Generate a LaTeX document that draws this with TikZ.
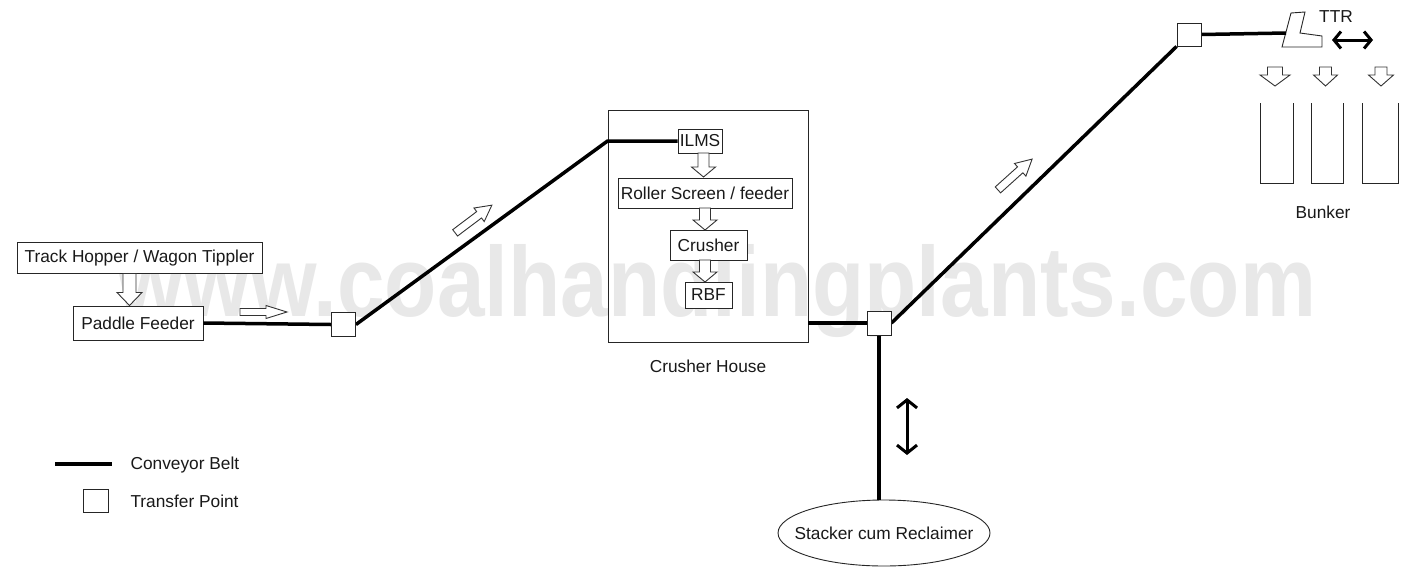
\documentclass[tikz,border=0pt]{standalone}
\usepackage{fontspec}
\setmainfont{Liberation Sans}
\usetikzlibrary{shapes.geometric,arrows.meta,calc}
% #1 centre, #2 angle, #3 length, #4 head length, #5 shaft width, #6 head width
\newcommand\hollowarrow[6]{%
  \begin{scope}[shift={#1}, rotate=#2]
    \draw[harrowline] (-#3/2,-#5/2) -- (#3/2-#4,-#5/2) -- (#3/2-#4,-#6/2) -- (#3/2,0)
      -- (#3/2-#4,#6/2) -- (#3/2-#4,#5/2) -- (-#3/2,#5/2) -- cycle;
  \end{scope}}
\begin{document}
\begin{tikzpicture}[x=1pt,y=-1pt,
  lbl/.style={font=\fontsize{17.3}{20}\selectfont, text=black!90},
  box/.style={draw=black!85, line width=0.9pt, inner sep=0pt, fill=white, lbl},
  tp/.style={draw=black!85, line width=0.9pt, inner sep=0pt, fill=white, minimum width=24pt, minimum height=24pt},
  conv/.style={line width=3.5pt, black},
  thin/.style={line width=0.9pt, black!85},
  harrowline/.style={draw=black!80, fill=white, line width=0.9pt, line join=miter},
  dbl/.style={line width=3pt, black, {Straight Barb[length=8pt,width=20pt]}-{Straight Barb[length=8pt,width=20pt]}}
]
\useasboundingbox (0,0) rectangle (1420,568);
\fill[white] (0,0) rectangle (1420,568);

% watermark
\node[anchor=base west, inner sep=0pt, text=black!9] (wm) at (117,316)
  {\resizebox{1198pt}{72pt}{\bfseries www.coalhandlingplants.com}};

% crusher house
\node[draw=black!85, line width=0.9pt, minimum width=200pt, minimum height=232pt, inner sep=0pt] (CH) at (708,226) {};
\node[lbl] (CHl) at (708,366) {Crusher House};

% boxes
\node[box, minimum width=245pt, minimum height=31pt] (TH) at (139.5,258) {Track Hopper / Wagon Tippler};
\node[box, minimum width=130pt, minimum height=34pt] (PF) at (138,323) {Paddle Feeder};
\node[box, minimum width=44pt, minimum height=24pt] (ILMS) at (700,141) {ILMS};
\node[box, minimum width=174pt, minimum height=30pt] (RS) at (705,193) {Roller Screen / feeder};
\node[box, minimum width=77pt, minimum height=30pt] (CR) at (708.5,245) {Crusher};
\node[box, minimum width=47pt, minimum height=26pt] (RBF) at (708.5,295) {RBF};

% transfer points
\node[tp] (TP1) at (343.5,324.5) {};
\node[tp] (TP2) at (879,323) {};
\node[tp, minimum height=23pt] (TP3) at (1189,34.5) {};

% stacker reclaimer
\node[ellipse, draw=black!85, line width=0.9pt, fill=white, minimum width=212pt, minimum height=66pt, inner sep=0pt] (SR) at (884,533) {};
\node[lbl] (SRl) at (SR.center) {Stacker cum Reclaimer};

% TTR
\draw[thin, fill=white] (1291,13) -- (1305,12) -- (1300,33) -- (1322,36) -- (1322,47) -- (1282,47) -- cycle;
\coordinate (TTR) at (1286,33);
\node[lbl, anchor=center] (TTRl) at (1336,17) {TTR};

% conveyors
\coordinate (k1) at (CH.west |- ILMS.west);
\coordinate (k2) at (CH.east |- TP2.west);
\coordinate (k3) at (TP2.south |- SR.north);
\draw[conv] (PF.east) -- (TP1.west);
\draw[conv] (TP1.east) -- (k1) -- (ILMS.west);
\draw[conv] (k2) -- (TP2.west);
\draw[conv] (TP2.east) -- (TP3.south west);
\draw[conv] (TP3.east) -- (TTR);
\draw[conv] (TP2.south) -- (k3);

% transfer point boxes on top of line ends
\node[tp] at (TP1) {};
\node[tp] at (TP2) {};
\node[tp, minimum height=23pt] at (TP3) {};

% hollow flow arrows
\hollowarrow{(129.5,289.5)}{-90}{32}{13}{13}{25}
\hollowarrow{(263.5,312)}{0}{47}{21}{7}{13}
\hollowarrow{(473.5,219)}{37}{46}{16}{8}{17}
\hollowarrow{(1015,174.5)}{42}{46}{16}{8}{17}
\hollowarrow{(703.5,165)}{-90}{24}{10}{11}{24}
\hollowarrow{(705,219)}{-90}{22}{10}{11}{24}
\hollowarrow{(705,271)}{-90}{22}{10}{11}{24}
\hollowarrow{(1275,76.5)}{-90}{19}{11}{15}{30}
\hollowarrow{(1325.5,76.5)}{-90}{19}{11}{12}{24}
\hollowarrow{(1381,76.5)}{-90}{19}{11}{12}{25}

% bunkers
\draw[thin] (1260,103) -- (1260,183) -- (1293,183) -- (1293,103);
\draw[thin] (1311,103) -- (1311,183) -- (1343,183) -- (1343,103);
\draw[thin] (1362,103) -- (1362,183) -- (1398,183) -- (1398,103);
\node[lbl] (BK) at (1323,212) {Bunker};

% double arrows
\coordinate (v1) at (907,398);
\coordinate (v2) at (907,455);
\draw[dbl] (v1) -- (v2);
\coordinate (h1) at (1332,40);
\coordinate (h2) at (1373,40);
\draw[dbl, {Straight Barb[length=7pt,width=17pt]}-{Straight Barb[length=7pt,width=17pt]}] (h1) -- (h2);

% legend
\coordinate (L1) at (55,464);
\coordinate (L2) at (112,464);
\draw[conv] (L1) -- (L2);
\node[lbl, anchor=west] (Lc) at (127,465) {Conveyor Belt};
\node[tp, minimum width=25pt, minimum height=23pt] (Lt) at (95.5,500.5) {};
\node[lbl, anchor=west] (Ltp) at (127,501) {Transfer Point};
\end{tikzpicture}
\end{document}
